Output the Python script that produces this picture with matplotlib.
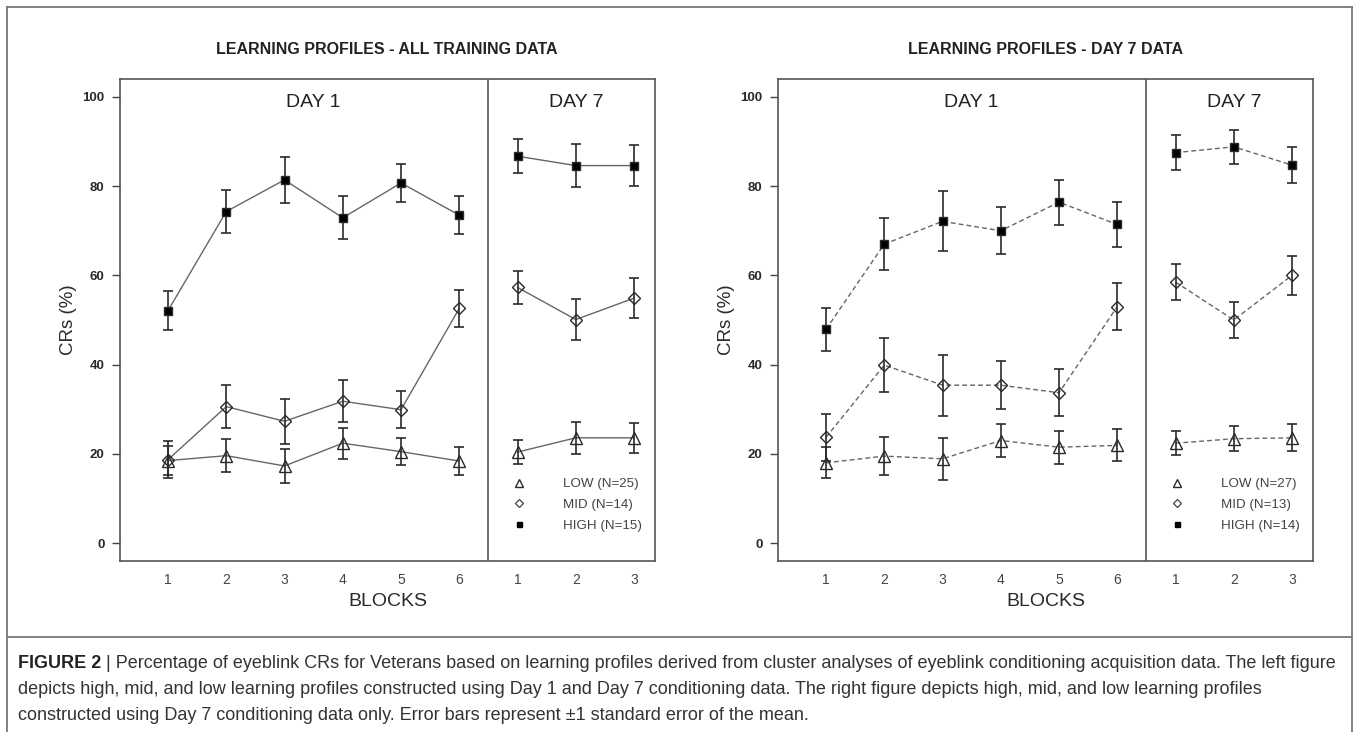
import matplotlib
matplotlib.use("Agg")
import matplotlib.pyplot as plt
from matplotlib.lines import Line2D
import numpy as np

plt.rcParams['font.family'] = ['Liberation Sans', 'DejaVu Sans']

# Bloques
blocks_day1 = [1, 2, 3, 4, 5, 6]
blocks_day7 = [1, 2, 3]

# Panel izquierdo - todos los datos de entrenamiento (media y error estandar)
all_low_d1 = [18.5, 19.6, 17.3, 22.4, 20.5, 18.4]
all_low_d1_se = [3.2, 3.65, 3.9, 3.5, 3.05, 3.1]
all_mid_d1 = [18.7, 30.6, 27.3, 31.8, 29.9, 52.6]
all_mid_d1_se = [4.2, 4.8, 5.0, 4.65, 4.15, 4.2]
all_high_d1 = [52.1, 74.3, 81.4, 72.9, 80.7, 73.5]
all_high_d1_se = [4.3, 4.9, 5.2, 4.8, 4.2, 4.25]

all_low_d7 = [20.4, 23.6, 23.6]
all_low_d7_se = [2.75, 3.6, 3.35]
all_mid_d7 = [57.3, 50.1, 54.9]
all_mid_d7_se = [3.65, 4.55, 4.4]
all_high_d7 = [86.7, 84.6, 84.6]
all_high_d7_se = [3.8, 4.75, 4.5]

# Panel derecho - solo datos del dia 7
d7_low_d1 = [18.0, 19.5, 18.9, 23.0, 21.5, 21.9]
d7_low_d1_se = [3.45, 4.2, 4.75, 3.8, 3.7, 3.6]
d7_mid_d1 = [23.7, 39.9, 35.4, 35.4, 33.7, 53.0]
d7_mid_d1_se = [5.2, 6.05, 6.85, 5.45, 5.25, 5.2]
d7_high_d1 = [47.9, 67.0, 72.1, 70.0, 76.4, 71.4]
d7_high_d1_se = [4.8, 5.8, 6.7, 5.3, 5.05, 5.05]

d7_low_d7 = [22.4, 23.4, 23.6]
d7_low_d7_se = [2.75, 2.75, 3.05]
d7_mid_d7 = [58.5, 50.0, 60.0]
d7_mid_d7_se = [3.95, 4.1, 4.3]
d7_high_d7 = [87.5, 88.8, 84.7]
d7_high_d7_se = [3.85, 3.85, 4.1]

labels_all = ['LOW (N=25)', 'MID (N=14)', 'HIGH (N=15)']
labels_d7 = ['LOW (N=27)', 'MID (N=13)', 'HIGH (N=14)']

titles = ['LEARNING PROFILES - ALL TRAINING DATA', 'LEARNING PROFILES - DAY 7 DATA']

caption_lines = [
    " | Percentage of eyeblink CRs for Veterans based on learning profiles derived from cluster "
    "analyses of eyeblink conditioning acquisition data. The left figure",
    "depicts high, mid, and low learning profiles constructed using Day 1 and Day 7 conditioning "
    "data. The right figure depicts high, mid, and low learning profiles",
    "constructed using Day 7 conditioning data only. Error bars represent \u00b11 standard error of the mean.",
]

W, H = 1357, 732
EDGE = '#555555'
DARK = '#2a2a2a'

# estilo de cada grupo: marcador, tamano, relleno
styles = {
    'low': dict(marker='^', ms=8.5, mfc='none'),
    'mid': dict(marker='D', ms=6.2, mfc='none'),
    'high': dict(marker='s', ms=6.2, mfc='black'),
}


def draw_panel(ax, series, legend_labels, dashed):
    ls = (0, (3.5, 2.2)) if dashed else '-'
    x1 = np.array(blocks_day1)
    x7 = np.array(blocks_day7) + len(blocks_day1)
    for key, (m1, s1, m7, s7) in series.items():
        st = styles[key]
        for xx, mm, ss in ((x1, m1, s1), (x7, m7, s7)):
            ax.plot(xx, mm, color='#666666', lw=1.0, ls=ls, zorder=2)
            ax.errorbar(xx, mm, yerr=ss, fmt='none', ecolor=DARK, elinewidth=1.2,
                        capsize=3.6, capthick=1.2, zorder=3)
            ax.plot(xx, mm, ls='none', marker=st['marker'], ms=st['ms'],
                    mfc=st['mfc'], mec=DARK, mew=1.0, zorder=4)

    ax.set_xlim(0.176, 9.36)
    ax.set_ylim(-4, 104)
    ax.axvline(len(blocks_day1) + 0.5, color=EDGE, lw=1.2)

    ax.set_xticks(list(x1) + list(x7))
    ax.set_xticklabels([str(b) for b in blocks_day1] + [str(b) for b in blocks_day7])
    ax.tick_params(axis='x', length=0, pad=9, labelsize=10, labelcolor='#444444')
    ax.set_yticks([0, 20, 40, 60, 80, 100])
    ax.tick_params(axis='y', length=6, width=1, color='#444444', pad=5,
                   labelsize=9.5, labelcolor=DARK)
    for lab in ax.get_yticklabels():
        lab.set_fontweight('bold')
    for sp in ax.spines.values():
        sp.set_color(EDGE)
        sp.set_linewidth(1.2)

    ax.set_xlabel('BLOCKS', fontsize=14, color=DARK, va='center')
    ax.xaxis.set_label_coords(0.5, -0.085)
    ax.set_ylabel('CRs (%)', fontsize=13.5, color=DARK, va='center')
    ax.yaxis.set_label_coords(-0.097, 0.5)

    ax.text(3.5, 98.7, 'DAY 1', fontsize=14, ha='center', va='center', color='#222222')
    ax.text(len(blocks_day1) + 2, 98.7, 'DAY 7', fontsize=14, ha='center', va='center',
            color='#222222')

    handles = [Line2D([], [], ls='none', marker='^', ms=5.8, mfc='none', mec=DARK, mew=1.0),
               Line2D([], [], ls='none', marker='D', ms=3.8, mfc='none', mec='#444444', mew=0.9),
               Line2D([], [], ls='none', marker='s', ms=3.6, mfc='black', mec='black')]
    ax.legend(handles, legend_labels, loc='upper left', bbox_to_anchor=(0.733, 0.172),
              frameon=False, handlelength=1.0, handletextpad=2.8, labelspacing=0.63,
              borderpad=0, borderaxespad=0, fontsize=9.6, labelcolor='#444444')


fig = plt.figure(figsize=(W / 100, H / 100), dpi=100)
fig.patch.set_facecolor('white')

ax_w = 535 / W
ax_h = (561 - 79) / H
ax_b = 1 - 561 / H
ax_left = fig.add_axes([120 / W, ax_b, ax_w, ax_h])
ax_right = fig.add_axes([778 / W, ax_b, ax_w, ax_h])

draw_panel(ax_left, {
    'low': (all_low_d1, all_low_d1_se, all_low_d7, all_low_d7_se),
    'mid': (all_mid_d1, all_mid_d1_se, all_mid_d7, all_mid_d7_se),
    'high': (all_high_d1, all_high_d1_se, all_high_d7, all_high_d7_se),
}, labels_all, dashed=False)

draw_panel(ax_right, {
    'low': (d7_low_d1, d7_low_d1_se, d7_low_d7, d7_low_d7_se),
    'mid': (d7_mid_d1, d7_mid_d1_se, d7_mid_d7, d7_mid_d7_se),
    'high': (d7_high_d1, d7_high_d1_se, d7_high_d7, d7_high_d7_se),
}, labels_d7, dashed=True)

fig.text(387 / W, 1 - 50 / H, titles[0], fontsize=11.5, fontweight='bold',
         ha='center', va='center', color='#222222')
fig.text(1045 / W, 1 - 50 / H, titles[1], fontsize=11.5, fontweight='bold',
         ha='center', va='center', color='#222222')

# marco exterior y separador del pie de figura
frame_kw = dict(color='#777777', lw=1.3, transform=fig.transFigure)
left, right, top, bottom, sep = 7 / W, 1352 / W, 1 - 7 / H, 0.0, 1 - 637 / H
fig.add_artist(Line2D([left, right], [top, top], **frame_kw))
fig.add_artist(Line2D([left, left], [top, bottom], **frame_kw))
fig.add_artist(Line2D([right, right], [top, bottom], **frame_kw))
fig.add_artist(Line2D([left, right], [sep, sep], **frame_kw))

cap_size = 13.0
cap_y = [664, 690, 716]
t0 = fig.text(18 / W, 1 - cap_y[0] / H, 'FIGURE 2', fontsize=cap_size, fontweight='bold',
              ha='left', va='center', color='#222222')
plt.annotate(caption_lines[0], xy=(1, 0.5), xycoords=t0, va='center', ha='left',
             fontsize=cap_size, color='#333333', annotation_clip=False)
for line, yy in zip(caption_lines[1:], cap_y[1:]):
    fig.text(18 / W, 1 - yy / H, line, fontsize=cap_size,
             ha='left', va='center', color='#333333')

fig.savefig('out.png', dpi=100, facecolor='white')
